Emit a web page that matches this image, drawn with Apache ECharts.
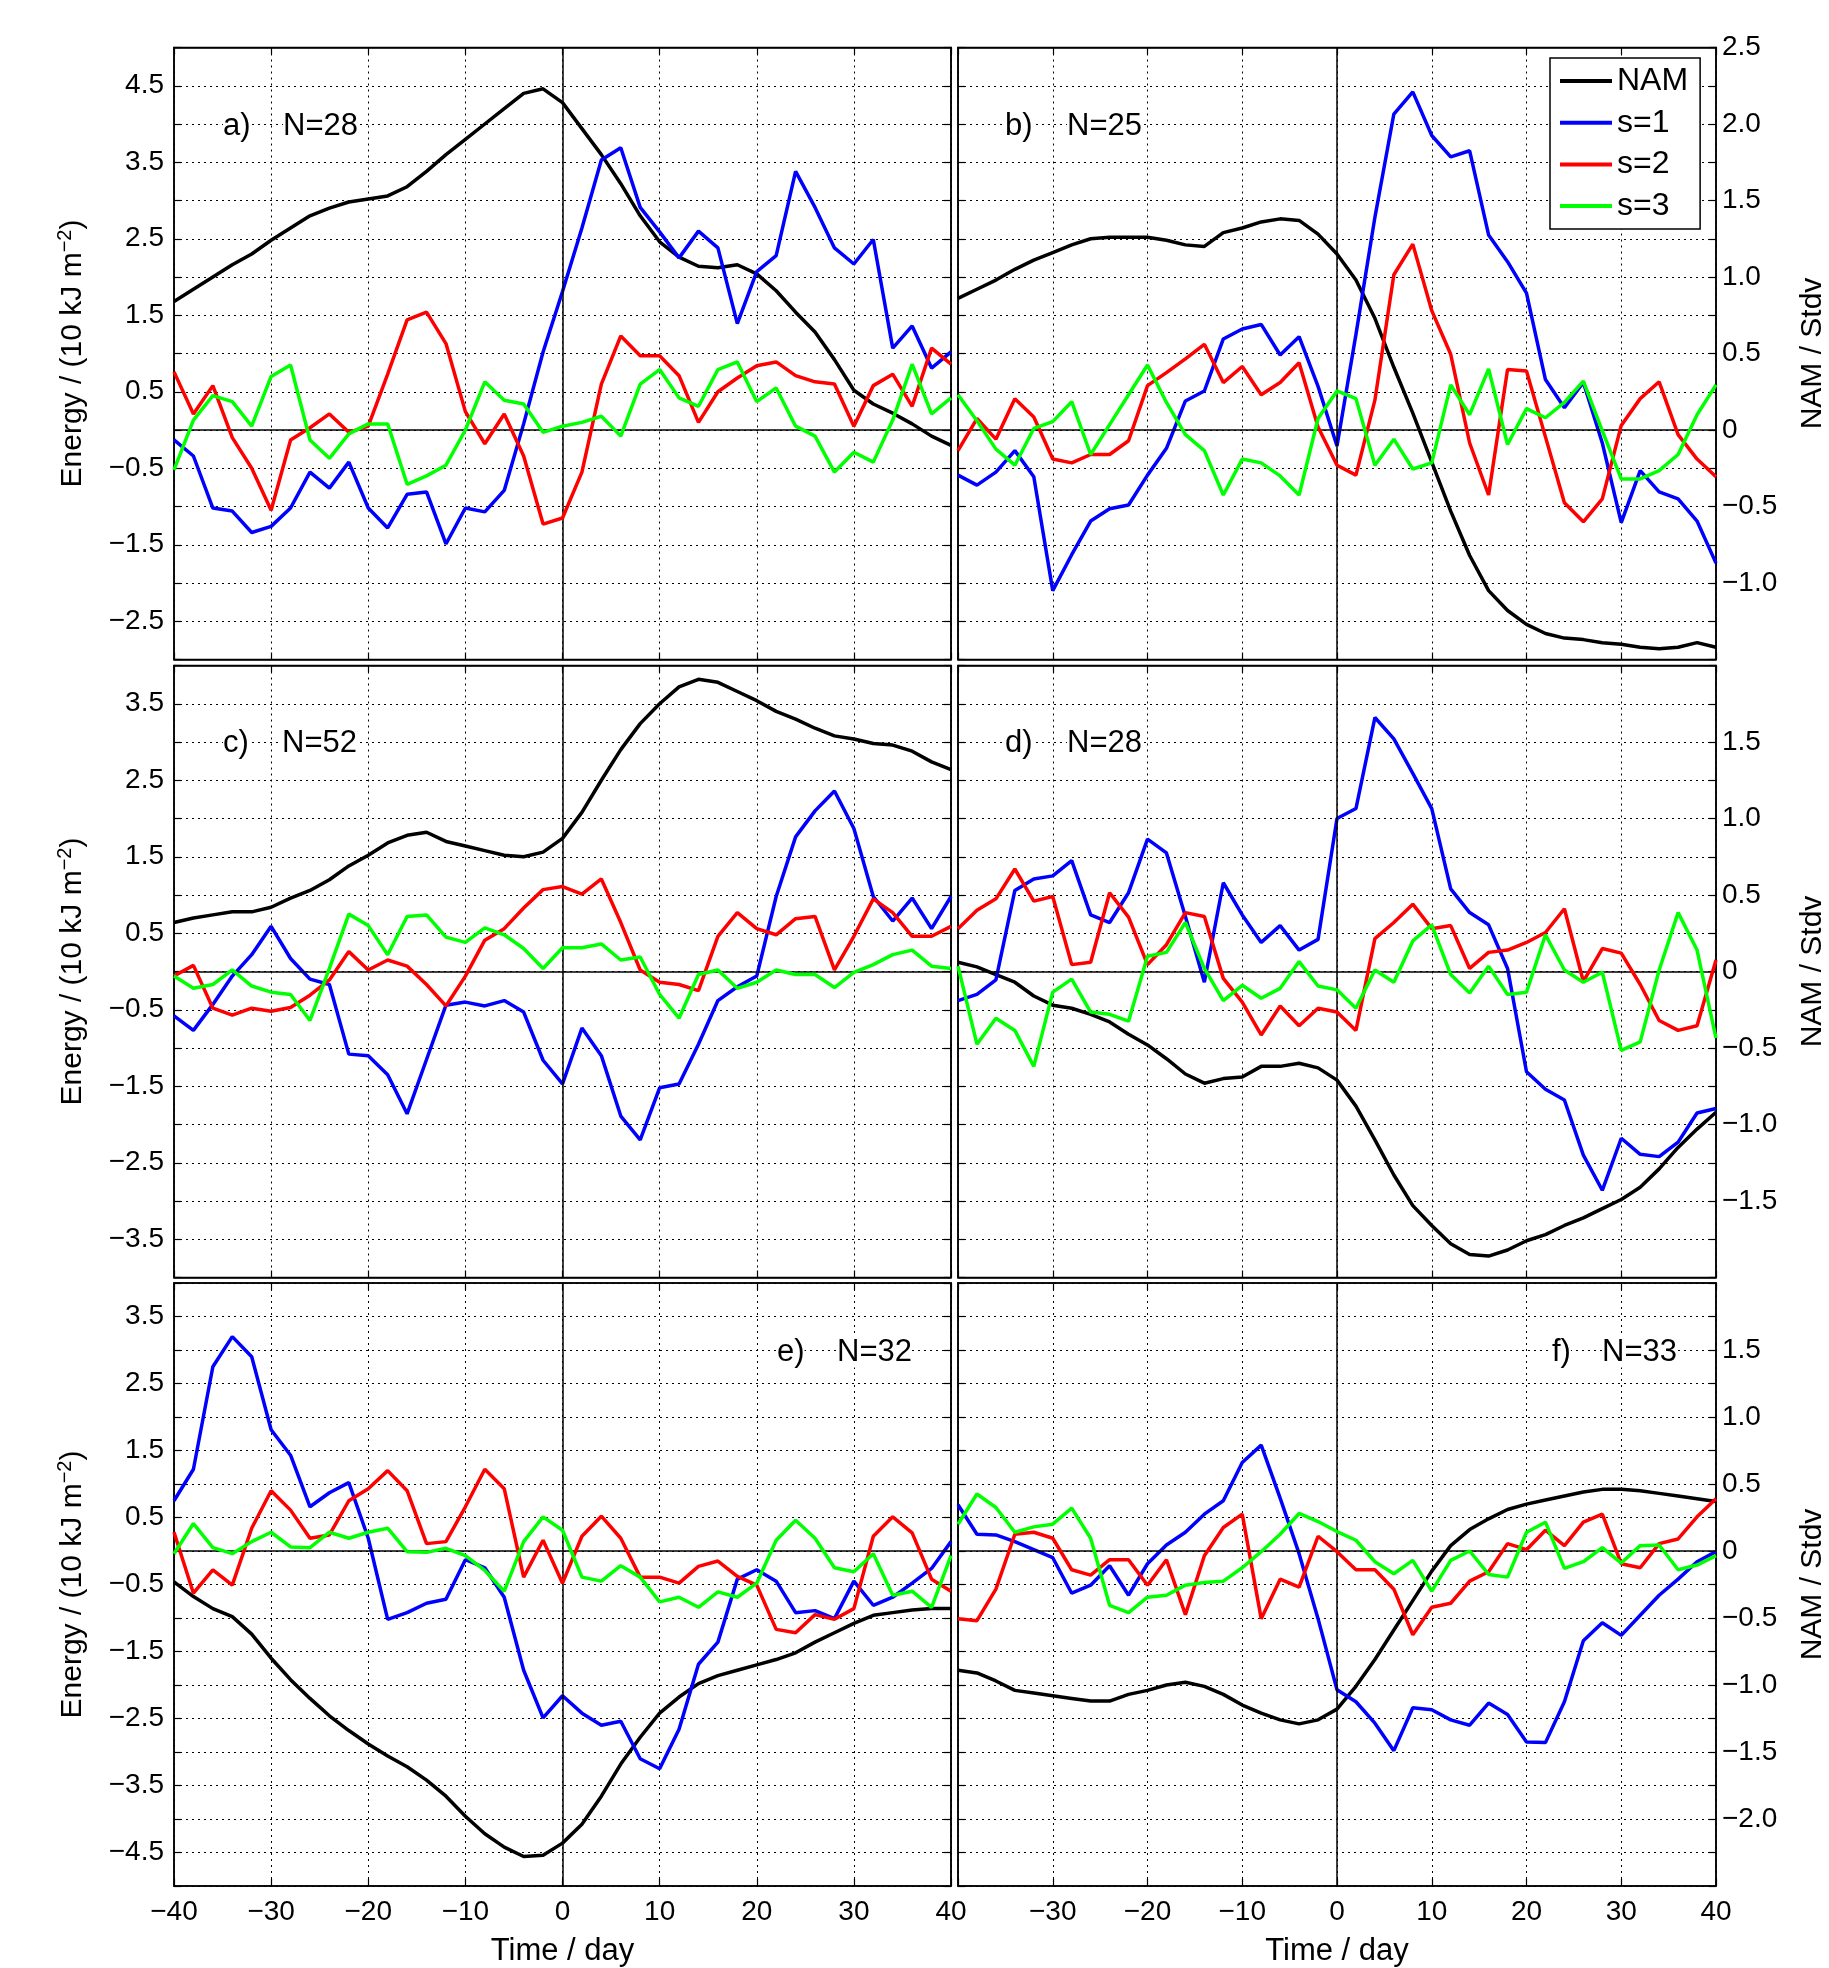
<!DOCTYPE html>
<html>
<head>
<meta charset="utf-8">
<title>NAM composites</title>
<script src="https://cdn.jsdelivr.net/npm/echarts@6/dist/echarts.min.js"></script>
<style>
  html, body { margin: 0; padding: 0; background: #fff; }
  #main { width: 1829px; height: 1968px; }
</style>
</head>
<body>
<div id="main"></div>
<script>
// lag in days (every 2nd day)
var days = [-40, -38, -36, -34, -32, -30, -28, -26, -24, -22, -20, -18, -16, -14, -12, -10, -8, -6, -4, -2,
  0, 2, 4, 6, 8, 10, 12, 14, 16, 18, 20, 22, 24, 26, 28, 30, 32, 34, 36, 38, 40]

// NAM in Stdv (right axis), s=1..3 energy in 10 kJ m^-2 (left axis)
// panel a
var namA = [0.84, 0.92, 1.00, 1.08, 1.15, 1.24, 1.32, 1.40, 1.45, 1.49, 1.51, 1.53, 1.59, 1.69, 1.80, 1.90, 2.00, 2.10, 2.20, 2.23,
  2.14, 1.97, 1.80, 1.61, 1.40, 1.23, 1.13, 1.07, 1.06, 1.08, 1.02, 0.91, 0.77, 0.64, 0.46, 0.26, 0.17, 0.11, 0.04, -0.04, -0.10]
var s1A = [-0.13, -0.34, -1.02, -1.06, -1.34, -1.26, -1.02, -0.55, -0.76, -0.42, -1.02, -1.28, -0.84, -0.81, -1.49, -1.02, -1.07, -0.79, 0.08, 1.02,
  1.81, 2.64, 3.53, 3.69, 2.91, 2.59, 2.25, 2.60, 2.38, 1.39, 2.07, 2.28, 3.38, 2.91, 2.38, 2.17, 2.49, 1.07, 1.36, 0.81, 1.02]
var s2A = [0.76, 0.21, 0.58, -0.10, -0.50, -1.05, -0.13, 0.03, 0.21, -0.03, 0.05, 0.73, 1.44, 1.54, 1.13, 0.24, -0.18, 0.21, -0.34, -1.23,
  -1.15, -0.55, 0.60, 1.23, 0.97, 0.97, 0.71, 0.10, 0.50, 0.68, 0.84, 0.89, 0.71, 0.63, 0.60, 0.05, 0.58, 0.73, 0.31, 1.07, 0.86]
var s3A = [-0.52, 0.13, 0.45, 0.37, 0.05, 0.70, 0.85, -0.13, -0.37, -0.05, 0.08, 0.08, -0.71, -0.60, -0.46, 0.00, 0.63, 0.39, 0.34, -0.03,
  0.05, 0.10, 0.18, -0.08, 0.60, 0.79, 0.42, 0.31, 0.79, 0.89, 0.37, 0.55, 0.05, -0.08, -0.55, -0.29, -0.42, 0.13, 0.86, 0.21, 0.42]
// panel b
var namB = [0.86, 0.92, 0.98, 1.05, 1.11, 1.16, 1.21, 1.25, 1.26, 1.26, 1.26, 1.24, 1.21, 1.20, 1.29, 1.32, 1.36, 1.38, 1.37, 1.28,
  1.15, 0.98, 0.73, 0.41, 0.11, -0.21, -0.53, -0.82, -1.05, -1.18, -1.27, -1.33, -1.36, -1.37, -1.39, -1.40, -1.42, -1.43, -1.42, -1.39, -1.42]
var s1B = [-0.59, -0.72, -0.55, -0.27, -0.61, -2.10, -1.63, -1.19, -1.03, -0.98, -0.59, -0.24, 0.38, 0.51, 1.19, 1.32, 1.38, 0.98, 1.22, 0.57,
  -0.21, 1.25, 2.78, 4.13, 4.42, 3.85, 3.57, 3.65, 2.55, 2.20, 1.79, 0.66, 0.29, 0.62, -0.17, -1.21, -0.53, -0.81, -0.90, -1.19, -1.74]
var s2B = [-0.27, 0.15, -0.12, 0.41, 0.17, -0.38, -0.43, -0.32, -0.32, -0.14, 0.58, 0.75, 0.93, 1.12, 0.62, 0.83, 0.46, 0.62, 0.88, 0.04,
  -0.46, -0.59, 0.39, 2.03, 2.43, 1.56, 0.99, -0.17, -0.85, 0.79, 0.77, -0.09, -0.95, -1.20, -0.90, 0.06, 0.41, 0.63, -0.06, -0.38, -0.61]
var s3B = [0.46, 0.12, -0.25, -0.46, 0.02, 0.11, 0.37, -0.32, 0.07, 0.46, 0.85, 0.36, -0.06, -0.27, -0.85, -0.38, -0.43, -0.60, -0.85, 0.15,
  0.51, 0.41, -0.46, -0.12, -0.51, -0.43, 0.59, 0.20, 0.80, -0.19, 0.28, 0.16, 0.36, 0.64, -0.01, -0.64, -0.64, -0.53, -0.32, 0.20, 0.59]
// panel c
var namC = [0.32, 0.35, 0.37, 0.39, 0.39, 0.42, 0.48, 0.53, 0.60, 0.69, 0.76, 0.84, 0.89, 0.91, 0.85, 0.82, 0.79, 0.76, 0.75, 0.78,
  0.87, 1.04, 1.25, 1.45, 1.62, 1.75, 1.86, 1.91, 1.89, 1.83, 1.77, 1.70, 1.65, 1.59, 1.54, 1.52, 1.49, 1.48, 1.44, 1.37, 1.32]
var s1C = [-0.58, -0.77, -0.43, -0.06, 0.22, 0.59, 0.17, -0.10, -0.17, -1.08, -1.10, -1.35, -1.86, -1.15, -0.44, -0.40, -0.45, -0.38, -0.53, -1.16,
  -1.47, -0.74, -1.10, -1.89, -2.20, -1.52, -1.47, -0.95, -0.38, -0.20, -0.06, 0.98, 1.76, 2.10, 2.36, 1.87, 0.98, 0.66, 0.96, 0.56, 0.98]
var s2C = [-0.06, 0.08, -0.48, -0.57, -0.48, -0.52, -0.47, -0.31, -0.11, 0.26, 0.02, 0.15, 0.07, -0.17, -0.45, -0.06, 0.41, 0.56, 0.83, 1.07,
  1.11, 1.01, 1.21, 0.64, 0.02, -0.14, -0.17, -0.25, 0.46, 0.77, 0.56, 0.48, 0.69, 0.72, 0.02, 0.46, 0.95, 0.77, 0.46, 0.46, 0.59]
var s3C = [-0.06, -0.22, -0.17, 0.02, -0.19, -0.27, -0.30, -0.64, 0.04, 0.75, 0.60, 0.22, 0.72, 0.74, 0.45, 0.38, 0.57, 0.48, 0.30, 0.04,
  0.31, 0.31, 0.36, 0.15, 0.19, -0.30, -0.61, -0.04, 0.02, -0.22, -0.14, 0.02, -0.04, -0.04, -0.21, -0.01, 0.09, 0.22, 0.28, 0.07, 0.04]
// panel d
var namD = [0.06, 0.03, -0.02, -0.07, -0.16, -0.22, -0.24, -0.28, -0.33, -0.41, -0.48, -0.57, -0.67, -0.73, -0.70, -0.69, -0.62, -0.62, -0.60, -0.63,
  -0.71, -0.88, -1.10, -1.33, -1.53, -1.66, -1.78, -1.85, -1.86, -1.82, -1.76, -1.72, -1.66, -1.61, -1.55, -1.49, -1.41, -1.29, -1.15, -1.03, -0.92]
var s1D = [-0.38, -0.30, -0.11, 1.06, 1.21, 1.25, 1.45, 0.74, 0.64, 1.03, 1.73, 1.55, 0.72, -0.14, 1.16, 0.74, 0.38, 0.60, 0.28, 0.42,
  2.00, 2.13, 3.32, 3.04, 2.59, 2.13, 1.08, 0.77, 0.61, 0.04, -1.31, -1.54, -1.68, -2.40, -2.86, -2.18, -2.39, -2.42, -2.23, -1.85, -1.79]
var s2D = [0.56, 0.80, 0.95, 1.34, 0.92, 0.98, 0.09, 0.12, 1.03, 0.71, 0.09, 0.35, 0.77, 0.72, -0.09, -0.40, -0.83, -0.45, -0.71, -0.48,
  -0.53, -0.77, 0.43, 0.64, 0.88, 0.56, 0.60, 0.04, 0.25, 0.28, 0.38, 0.51, 0.82, -0.13, 0.30, 0.24, -0.17, -0.64, -0.77, -0.71, 0.15]
var s3D = [0.07, -0.95, -0.61, -0.77, -1.24, -0.27, -0.10, -0.53, -0.56, -0.65, 0.20, 0.25, 0.64, 0.04, -0.38, -0.18, -0.35, -0.22, 0.13, -0.19,
  -0.24, -0.48, 0.02, -0.14, 0.40, 0.61, -0.04, -0.28, 0.07, -0.30, -0.27, 0.48, 0.02, -0.14, -0.01, -1.03, -0.92, 0.02, 0.77, 0.28, -0.87]
// panel e
var namE = [-0.23, -0.34, -0.43, -0.49, -0.62, -0.80, -0.96, -1.10, -1.23, -1.34, -1.44, -1.53, -1.61, -1.71, -1.83, -1.98, -2.11, -2.21, -2.28, -2.27,
  -2.18, -2.04, -1.83, -1.59, -1.39, -1.21, -1.09, -0.99, -0.93, -0.89, -0.85, -0.81, -0.76, -0.68, -0.61, -0.54, -0.48, -0.46, -0.44, -0.43, -0.43]
var s1E = [0.75, 1.22, 2.75, 3.20, 2.90, 1.81, 1.43, 0.66, 0.87, 1.02, 0.19, -1.02, -0.92, -0.78, -0.72, -0.13, -0.25, -0.69, -1.78, -2.49,
  -2.16, -2.42, -2.60, -2.54, -3.10, -3.25, -2.66, -1.69, -1.36, -0.42, -0.28, -0.45, -0.92, -0.89, -1.01, -0.45, -0.81, -0.69, -0.48, -0.26, 0.14]
var s2E = [0.28, -0.63, -0.28, -0.51, 0.34, 0.90, 0.61, 0.19, 0.24, 0.75, 0.93, 1.20, 0.90, 0.11, 0.14, 0.66, 1.22, 0.93, -0.39, 0.16,
  -0.48, 0.22, 0.52, 0.19, -0.39, -0.39, -0.48, -0.23, -0.15, -0.38, -0.51, -1.17, -1.22, -0.95, -1.02, -0.86, 0.22, 0.51, 0.27, -0.42, -0.60]
var s3E = [-0.04, 0.41, 0.05, -0.04, 0.14, 0.28, 0.06, 0.05, 0.28, 0.19, 0.28, 0.34, -0.01, -0.02, 0.04, -0.07, -0.29, -0.60, 0.14, 0.51,
  0.31, -0.39, -0.45, -0.22, -0.39, -0.76, -0.69, -0.84, -0.61, -0.69, -0.48, 0.16, 0.46, 0.19, -0.25, -0.31, -0.04, -0.66, -0.60, -0.84, -0.07]
// panel f
var namF = [-0.89, -0.91, -0.97, -1.04, -1.06, -1.08, -1.10, -1.12, -1.12, -1.07, -1.04, -1.00, -0.98, -1.01, -1.07, -1.15, -1.21, -1.26, -1.29, -1.26,
  -1.18, -1.01, -0.81, -0.59, -0.37, -0.15, 0.04, 0.16, 0.24, 0.31, 0.35, 0.38, 0.41, 0.44, 0.46, 0.46, 0.45, 0.43, 0.41, 0.39, 0.37]
var s1F = [0.69, 0.25, 0.24, 0.14, 0.02, -0.10, -0.63, -0.51, -0.22, -0.66, -0.19, 0.09, 0.28, 0.55, 0.75, 1.32, 1.58, 0.79, -0.04, -1.01,
  -2.07, -2.25, -2.57, -2.98, -2.34, -2.37, -2.52, -2.60, -2.27, -2.44, -2.85, -2.86, -2.25, -1.34, -1.07, -1.26, -0.96, -0.66, -0.42, -0.16, -0.01]
var s2F = [-1.01, -1.04, -0.57, 0.25, 0.28, 0.19, -0.28, -0.36, -0.13, -0.13, -0.51, -0.13, -0.95, -0.07, 0.35, 0.55, -1.01, -0.42, -0.54, 0.22,
  -0.01, -0.28, -0.28, -0.57, -1.25, -0.84, -0.78, -0.45, -0.31, 0.11, 0.02, 0.31, 0.08, 0.43, 0.55, -0.19, -0.25, 0.11, 0.18, 0.51, 0.78]
var s3F = [0.40, 0.85, 0.65, 0.28, 0.36, 0.40, 0.64, 0.19, -0.81, -0.92, -0.69, -0.66, -0.51, -0.47, -0.45, -0.25, -0.01, 0.25, 0.56, 0.44,
  0.29, 0.16, -0.16, -0.34, -0.14, -0.60, -0.14, 0.00, -0.35, -0.39, 0.28, 0.43, -0.26, -0.16, 0.05, -0.18, 0.08, 0.09, -0.28, -0.21, -0.07]

var panelTags = ['a)', 'b)', 'c)', 'd)', 'e)', 'f)']
var panelN = ['N=28', 'N=25', 'N=52', 'N=28', 'N=32', 'N=33']
var seriesNames = ['NAM', 's=1', 's=2', 's=3']
var seriesColors = ['#000000', '#0000ff', '#ff0000', '#00ff00']

// axis ranges per row: energy (left) and NAM (right)
var leftRange = [[-3, 5], [-4, 4], [-5, 4]]
var rightRange = [[-1.5, 2.5], [-2, 2], [-2.5, 2]]

var panels = [
  [namA, s1A, s2A, s3A],
  [namB, s1B, s2B, s3B],
  [namC, s1C, s2C, s3C],
  [namD, s1D, s2D, s3D],
  [namE, s1E, s2E, s3E],
  [namF, s1F, s2F, s3F]
]

// layout
var FONT = 'Arial, "Liberation Sans", sans-serif'
var boxes = [
  { left: 174, top: 47.5, width: 777, height: 612 },
  { left: 958, top: 47.5, width: 760, height: 612 },
  { left: 174, top: 665.5, width: 777, height: 612 },
  { left: 958, top: 665.5, width: 760, height: 612 },
  { left: 174, top: 1283, width: 777, height: 613 },
  { left: 958, top: 1283, width: 760, height: 613 }
]
// [tag x, N x, centre y] of the panel labels
var labelPos = [[223, 283, 126], [1005, 1067, 126], [223, 282, 743], [1005, 1067, 743], [777, 837, 1352], [1552, 1602, 1352]]

var axisLineStyle = { color: '#000', width: 1.5 }
var tickStyle = { show: true, inside: true, length: 7, lineStyle: { color: '#000', width: 1.2 } }
var gridDots = { show: true, lineStyle: { color: '#000', width: 1, type: [2, 4] } }

function minus(s) {
  return s.replace('-', '\u2212')
}

function pairs(vals) {
  return vals.map(function (v, k) { return [days[k], v] })
}

var grids = [], xAxes = [], yAxes = [], series = [], graphics = []

boxes.forEach(function (b, i) {
  var col = i % 2
  var row = Math.floor(i / 2)
  grids.push({
    left: b.left, top: b.top, width: b.width, height: b.height,
    show: true, borderColor: '#000', borderWidth: 1.5
  })

  // bottom x axis
  xAxes.push({
    type: 'value', gridIndex: i, position: 'bottom', min: -40, max: 40, interval: 10,
    axisLine: { show: true, onZero: false, lineStyle: axisLineStyle },
    axisTick: tickStyle,
    axisLabel: {
      show: row === 2, margin: 12, fontSize: 28, color: '#000', fontFamily: FONT,
      formatter: function (v) {
        if (col === 1 && v === -40) return ''
        return minus(String(v))
      }
    },
    splitLine: gridDots,
    name: row === 2 ? 'Time / day' : '',
    nameLocation: 'middle', nameGap: 50,
    nameTextStyle: { fontSize: 31, color: '#000', fontFamily: FONT }
  })
  // top x axis, ticks only
  xAxes.push({
    type: 'value', gridIndex: i, position: 'top', min: -40, max: 40, interval: 10,
    axisLine: { show: true, onZero: false, lineStyle: axisLineStyle },
    axisTick: tickStyle, axisLabel: { show: false }, splitLine: { show: false }
  })

  var lmin = leftRange[row][0], lmax = leftRange[row][1]
  var rmin = rightRange[row][0], rmax = rightRange[row][1]
  yAxes.push({
    type: 'value', gridIndex: i, position: 'left', min: lmin, max: lmax, interval: 0.5,
    axisLine: { show: true, onZero: false, lineStyle: axisLineStyle },
    axisTick: tickStyle,
    axisLabel: {
      show: col === 0, margin: 10, fontSize: 28, color: '#000', fontFamily: FONT,
      formatter: function (v) {
        return Math.abs(Math.round(v * 2)) % 2 === 1 ? minus(v.toFixed(1)) : ''
      }
    },
    splitLine: gridDots,
    name: col === 0 ? '{t|Energy / (10 kJ m}{s|\u22122}{t|)}' : '',
    nameLocation: 'middle', nameGap: 86,
    nameTextStyle: {
      color: '#000', fontFamily: FONT, fontSize: 30,
      rich: {
        t: { fontSize: 30, fontFamily: FONT, color: '#000', verticalAlign: 'bottom' },
        s: { fontSize: 20, fontFamily: FONT, color: '#000', verticalAlign: 'bottom', padding: [0, 0, 13, 0] }
      }
    }
  })
  yAxes.push({
    type: 'value', gridIndex: i, position: 'right', min: rmin, max: rmax, interval: 0.25,
    axisLine: { show: true, onZero: false, lineStyle: axisLineStyle },
    axisTick: tickStyle,
    axisLabel: {
      show: col === 1, margin: 6, fontSize: 28, color: '#000', fontFamily: FONT,
      formatter: function (v) {
        if (Math.abs(Math.round(v * 4)) % 2 === 1) return ''
        if (v === rmin) return ''
        if (v === rmax && row > 0) return ''
        return v === 0 ? '0' : minus(v.toFixed(1))
      }
    },
    splitLine: { show: false },
    name: col === 1 ? 'NAM / Stdv' : '',
    nameLocation: 'middle', nameGap: 82,
    nameTextStyle: { fontSize: 30, color: '#000', fontFamily: FONT }
  })

  panels[i].forEach(function (vals, k) {
    var s = {
      name: seriesNames[k], type: 'line',
      xAxisIndex: 2 * i, yAxisIndex: k === 0 ? 2 * i + 1 : 2 * i,
      data: pairs(vals), showSymbol: false, symbol: 'none',
      color: seriesColors[k],
      lineStyle: { color: seriesColors[k], width: 3.5 },
      z: 3 + k
    }
    if (k === 1) {
      // solid zero lines
      s.markLine = {
        silent: true, symbol: ['none', 'none'], label: { show: false },
        lineStyle: { color: '#000', type: 'solid', width: 1.5 },
        data: [{ xAxis: 0 }, { yAxis: 0 }]
      }
    }
    series.push(s)
  })

  var p = labelPos[i]
  graphics.push({
    type: 'text', x: p[0], y: p[2], z: 20,
    style: { text: panelTags[i], fontSize: 31, fontFamily: FONT, fill: '#000', verticalAlign: 'middle', backgroundColor: '#fff' }
  })
  graphics.push({
    type: 'text', x: p[1], y: p[2], z: 20,
    style: { text: panelN[i], fontSize: 31, fontFamily: FONT, fill: '#000', verticalAlign: 'middle', backgroundColor: '#fff' }
  })
})

var myChart = echarts.init(document.getElementById('main'), null, { renderer: 'canvas' })
var option = {
  backgroundColor: '#fff',
  animation: false,
  grid: grids,
  xAxis: xAxes,
  yAxis: yAxes,
  series: series,
  legend: {
    data: seriesNames, orient: 'vertical',
    left: 1550, top: 58, z: 30,
    icon: 'rect', itemWidth: 52, itemHeight: 4, itemGap: 9.7,
    padding: [7, 12, 7, 10],
    backgroundColor: '#fff', borderColor: '#000', borderWidth: 1.5,
    textStyle: { fontSize: 32, color: '#000', fontFamily: FONT }
  },
  graphic: graphics
}
myChart.setOption(option)
</script>
</body>
</html>
